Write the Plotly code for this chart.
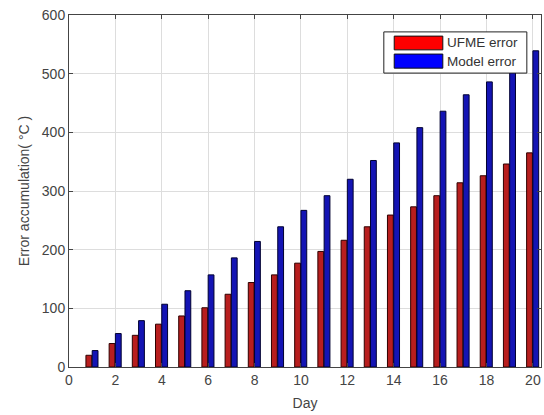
import plotly.graph_objects as go

days = list(range(1, 21))
ufme_error = [20, 40, 54, 73, 87, 101, 124, 144, 157, 177,
              197, 216, 239, 259, 273, 292, 314, 326, 346, 365]
model_error = [28, 57, 79, 107, 130, 157, 186, 214, 239, 267,
               292, 320, 352, 382, 408, 436, 464, 486, 512, 539]
x_ticks = list(range(0, 21, 2))
y_ticks = list(range(0, 601, 100))
series_names = ["UFME error", "Model error"]
legend_colors = ["#FF0000", "#0000FF"]

FONT = "Liberation Sans, Arial"

fig = go.Figure()
fig.add_trace(go.Bar(x=days, y=ufme_error, name=series_names[0],
                     offset=-0.27, width=0.25, showlegend=False,
                     marker=dict(color="#B81E1E", line=dict(color="#300000", width=1))))
fig.add_trace(go.Bar(x=days, y=model_error, name=series_names[1],
                     offset=0.0, width=0.25, showlegend=False,
                     marker=dict(color="#1414B4", line=dict(color="#000030", width=1))))

axis_common = dict(showgrid=True, gridcolor="#DDDDDD", gridwidth=1,
                   showline=True, linecolor="#444444", linewidth=1, mirror="ticks",
                   ticks="inside", ticklen=4, tickcolor="#444444", automargin=False,
                   tickfont=dict(family=FONT, size=14, color="#444444"),
                   zeroline=False)

# Manual MATLAB-style legend box (paper coordinates)
shapes = [dict(type="rect", xref="paper", yref="paper", x0=0.667, x1=0.970, y0=0.835, y1=0.952,
               fillcolor="white", line=dict(color="#222222", width=1), layer="above")]
sw_y = [(0.901, 0.940), (0.849, 0.889)]
annotations = []
for (y0, y1), col, name in zip(sw_y, legend_colors, series_names):
    shapes.append(dict(type="rect", xref="paper", yref="paper", x0=0.689, x1=0.792, y0=y0, y1=y1,
                       fillcolor=col, line=dict(color="#111111", width=1), layer="above"))
    annotations.append(dict(xref="paper", yref="paper", x=0.796, y=(y0 + y1) / 2,
                            xanchor="left", yanchor="middle", text=name, showarrow=False,
                            font=dict(family=FONT, size=13.5, color="#333333")))

fig.update_layout(
    width=544, height=415,
    margin=dict(l=69, r=3, t=15, b=48),
    paper_bgcolor="white", plot_bgcolor="white",
    barmode="overlay",
    font=dict(family=FONT, size=14, color="#444444"),
    xaxis=dict(range=[0, 20.35], tickvals=x_ticks,
               title=dict(text="Day", standoff=11, font=dict(size=14)), **axis_common),
    yaxis=dict(range=[0, 600], tickvals=y_ticks,
               title=dict(text="Error accumulation( °C )", standoff=8, font=dict(size=14)), **axis_common),
    shapes=shapes,
    annotations=annotations,
    showlegend=False,
)

fig.write_html("out.html", config={"displayModeBar": False},
               post_script="document.body.style.margin='0';document.body.style.overflow='hidden';")
